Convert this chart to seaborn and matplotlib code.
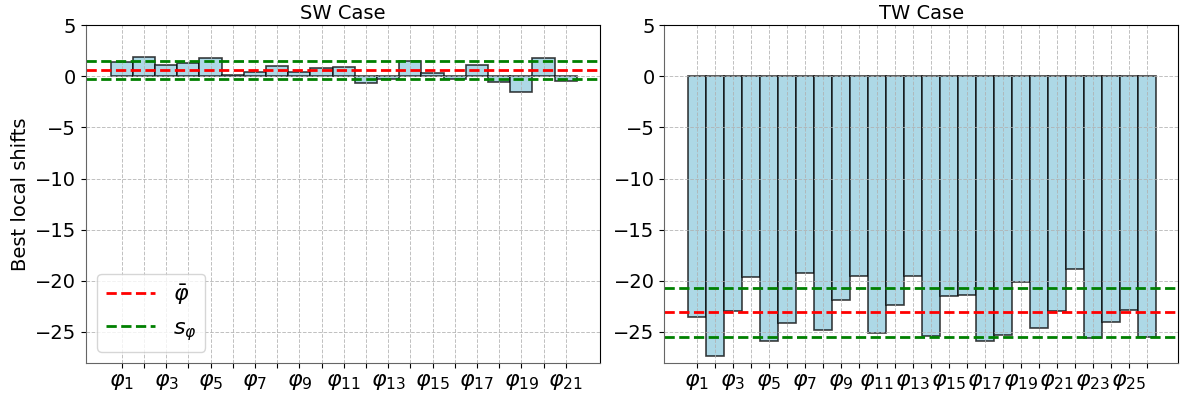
import numpy as np
import pandas as pd
import seaborn as sns
from matplotlib import pyplot as plt

# values
sw_shifts = [1.4, 1.9, 1.14, 1.27, 1.76, 0.1, 0.36, 1.0, 0.36, 0.82, 0.91,
             -0.65, -0.26, 1.5, 0.33, -0.23, 1.11, -0.56, -1.5, 1.76, -0.46]
tw_shifts = [-23.53, -27.39, -22.97, -19.58, -25.85, -24.08, -19.25, -24.84,
             -21.83, -19.48, -25.13, -22.35, -19.48, -25.36, -21.5, -21.34,
             -25.85, -25.26, -20.1, -24.6, -22.9, -18.89, -25.62, -24.02,
             -22.84, -25.46]
# mean line and the two spread lines for each case
sw_mean = 0.6
sw_spread = [1.5, -0.3]
tw_mean = -23.07
tw_spread = [-20.69, -25.52]

titles = ['SW Case', 'TW Case']


def draw_case(ax, values, mean, spread, title, xlim):
    n = len(values)
    df = pd.DataFrame({'phi': [f'p{i + 1}' for i in range(n)], 'shift': values})
    sns.barplot(data=df, x='phi', y='shift', ax=ax, color='lightblue',
                saturation=1, width=1, edgecolor=(0, 0, 0, 0.75), linewidth=1.2,
                errorbar=None)
    ax.axhline(mean, color='red', linestyle='--', linewidth=2, zorder=3,
               label=r'$\bar{\varphi}$')
    for k, s in enumerate(spread):
        ax.axhline(s, color='green', linestyle='--', linewidth=2, zorder=3,
                   label=r'$s_{\varphi}$' if k == 0 else None)
    ax.set_xticks(range(n))
    ax.set_xticklabels([rf'$\varphi_{{{i + 1}}}$' if i % 2 == 0 else ''
                        for i in range(n)], fontsize=16)
    ax.set_xlim(*xlim)
    ax.set_ylim(-28, 5)
    ax.set_yticks([5, 0, -5, -10, -15, -20, -25])
    ax.tick_params(axis='y', labelsize=14)
    ax.set_xlabel('')
    ax.set_ylabel('')
    ax.set_title(title, fontsize=14, pad=4)
    ax.grid(True, linestyle='--', linewidth=0.7, color='#b0b0b0', alpha=0.8)
    ax.set_axisbelow(False)
    for side in ax.spines.values():
        side.set_zorder(4)
    ax.spines['left'].set_color('#666666')
    ax.spines['bottom'].set_color('#666666')


def main():
    plt.rcParams['font.family'] = ['DejaVu Sans']
    fig, axes = plt.subplots(1, 2, figsize=(11.82, 3.99), dpi=100)
    fig.subplots_adjust(left=0.0728, right=0.9966, top=0.9373, bottom=0.091,
                        wspace=0.126)

    draw_case(axes[0], sw_shifts, sw_mean, sw_spread, titles[0], (-1.61, 21.53))
    draw_case(axes[1], tw_shifts, tw_mean, tw_spread, titles[1], (-1.8, 26.74))

    axes[0].set_ylabel('Best local shifts', fontsize=14)
    axes[0].legend(loc='lower left', fontsize=16, handlelength=2.2)

    fig.savefig('out.png', dpi=100)


if __name__ == '__main__':
    main()
